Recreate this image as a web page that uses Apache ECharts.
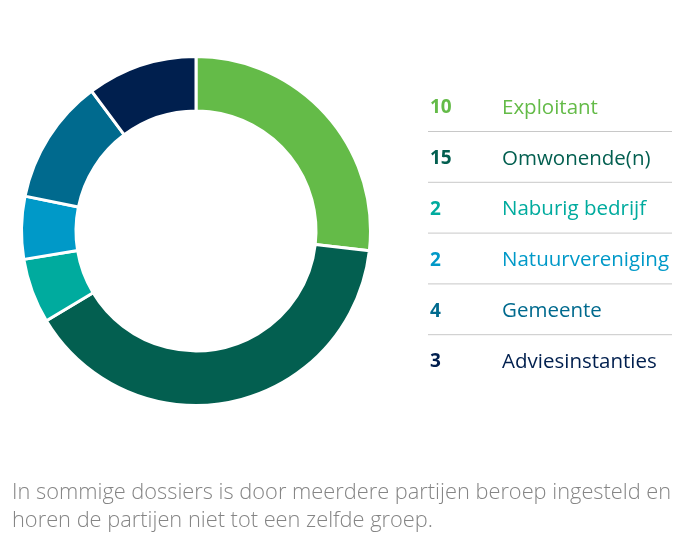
<!DOCTYPE html>
<html lang="nl" style="height:100%">
<head>
    <meta charset="UTF-8">
    <title>Beroepen per partij</title>
    <script src="https://cdn.jsdelivr.net/npm/echarts@6/dist/echarts.min.js"></script>
</head>
<body style="height:100%;margin:0;background:#fff">
<div id="main" style="width:676px;height:540px;"></div>
<script type="text/javascript">
    // data
    var partijen = ['Exploitant', 'Omwonende(n)', 'Naburig bedrijf', 'Natuurvereniging', 'Gemeente', 'Adviesinstanties'];
    var aantallen = [10, 15, 2, 2, 4, 3];
    // aandeel van elk segment in de ring (%)
    var aandeel = [26.8, 39.6, 6.0, 5.8, 11.6, 10.2];
    var kleuren = ['#64bb48', '#035f50', '#00ab9e', '#0099c8', '#006a8e', '#001f4e'];
    var toelichting = 'In sommige dossiers is door meerdere partijen beroep ingesteld en\nhoren de partijen niet tot een zelfde groep.';

    var myChart = echarts.init(document.getElementById('main'));

    var rich = {};
    partijen.forEach(function (p, i) {
        rich['n' + i] = {fontWeight: 'bold', fontSize: 19, color: kleuren[i], width: 72, fontFamily: 'Open Sans', lineHeight: 24};
        rich['l' + i] = {fontSize: 20.5, color: kleuren[i], fontFamily: 'Open Sans', lineHeight: 24};
    });

    // scheidingslijnen tussen de legenda-regels
    var lijnen = [];
    for (var i = 0; i < partijen.length - 1; i++) {
        var y = 131.5 + i * 50.8;
        lijnen.push({
            type: 'line',
            shape: {x1: 428, y1: y, x2: 672, y2: y},
            style: {stroke: '#c8c8c8', lineWidth: 1}
        });
    }
    lijnen.push({
        type: 'text',
        left: 12,
        top: 479,
        style: {text: toelichting, fill: '#858585', font: '300 21.8px "Open Sans"', lineHeight: 28}
    });

    var option = {
        color: kleuren,
        legend: {
            orient: 'vertical',
            left: 420,
            top: 91,
            icon: 'none',
            itemWidth: 0,
            itemHeight: 24,
            itemGap: 26.8,
            selectedMode: false,
            data: partijen,
            formatter: function (name) {
                var i = partijen.indexOf(name);
                return '{n' + i + '|' + aantallen[i] + '}{l' + i + '|' + name + '}';
            },
            textStyle: {rich: rich, lineHeight: 24}
        },
        graphic: lijnen,
        series: [{
            type: 'pie',
            center: [196, 231],
            radius: [120, 174.5],
            startAngle: 90,
            clockwise: true,
            label: {show: false},
            labelLine: {show: false},
            emphasis: {disabled: true},
            animation: false,
            itemStyle: {borderColor: '#fff', borderWidth: 3},
            data: partijen.map(function (p, i) {
                return {name: p, value: aandeel[i]};
            })
        }]
    };
    myChart.setOption(option);
</script>
</body>
</html>
